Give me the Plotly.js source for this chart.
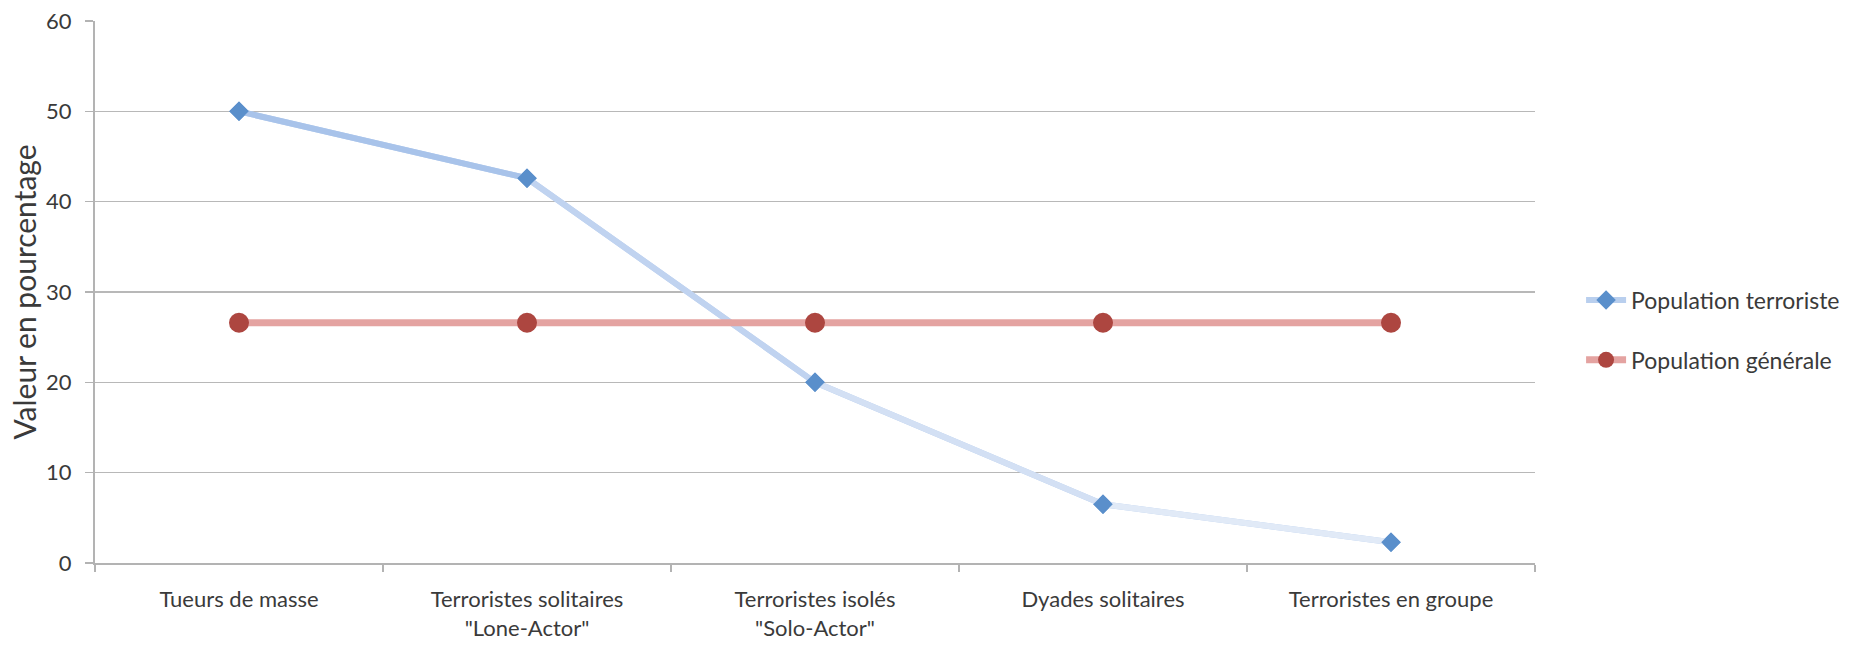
<!DOCTYPE html>
<html>
<head>
<meta charset="utf-8">
<script src="https://cdn.plot.ly/plotly-3.0.1.min.js"></script>
<style>html,body{margin:0;padding:0;background:#fff;}#chart{width:1857px;height:652px;}</style>
</head>
<body>
<div id="chart"></div>
<script>
const categories = [
  'Tueurs de masse',
  'Terroristes solitaires<br>"Lone-Actor"',
  'Terroristes isolés<br>"Solo-Actor"',
  'Dyades solitaires',
  'Terroristes en groupe'
];
const terroristValues = [50, 42.6, 20, 6.5, 2.3];
const generalValues = [26.6, 26.6, 26.6, 26.6, 26.6];
const seriesNames = ['Population terroriste', 'Population générale'];
const yTicks = [0, 10, 20, 30, 40, 50, 60];

const segColors = ['#a8c3ea', '#c0d3f0', '#d3e0f4', '#e1eaf7'];
const FONT = 'Lato, "Open Sans", sans-serif';

const traces = [];
traces.push({
  x: categories, y: terroristValues, name: seriesNames[0],
  type: 'scatter', mode: 'lines+markers',
  line: {color: '#b9cfee', width: 6},
  marker: {symbol: 'diamond', size: 15, color: '#5a8fcb'},
  legendgroup: 'a', hoverinfo: 'skip'
});
for (let i = 0; i < terroristValues.length - 1; i++) {
  traces.push({
    x: categories.slice(i, i + 2), y: terroristValues.slice(i, i + 2),
    type: 'scatter', mode: 'lines', showlegend: false,
    line: {color: segColors[i], width: 6}, hoverinfo: 'skip'
  });
}
traces.push({
  x: categories, y: generalValues, name: seriesNames[1],
  type: 'scatter', mode: 'lines+markers',
  line: {color: '#e4a3a1', width: 7},
  marker: {symbol: 'circle', size: 20, color: '#ad4640'},
  legendgroup: 'b'
});
traces.push({
  x: categories, y: terroristValues, type: 'scatter', mode: 'markers',
  showlegend: false,
  marker: {symbol: 'diamond', size: 15, color: '#5a8fcb'}
});

const layout = {
  width: 1857, height: 652,
  margin: {l: 95, r: 301, t: 21, b: 89},
  paper_bgcolor: '#ffffff', plot_bgcolor: '#ffffff',
  font: {family: FONT, size: 22, color: '#3a3a3a'},
  showlegend: true,
  legend: {
    x: 1.032, xanchor: 'left', y: 0.43, yanchor: 'middle',
    font: {family: FONT, size: 23, color: '#3a3a3a'},
    tracegroupgap: 27, itemwidth: 40
  },
  xaxis: {
    type: 'category', tickson: 'boundaries', range: [-0.5, 4.5],
    showline: true, linecolor: '#b3b3b3', linewidth: 2,
    ticks: 'outside', ticklen: 7, tickcolor: '#b3b3b3', tickwidth: 1.5,
    showgrid: false, zeroline: false,
    tickfont: {family: FONT, size: 22, color: '#3a3a3a'},
    ticklabelstandoff: 16,
    fixedrange: true
  },
  yaxis: {
    range: [0, 60], tickvals: yTicks, ticktext: yTicks.map(String),
    showline: true, linecolor: '#b3b3b3', linewidth: 2,
    ticks: 'outside', ticklen: 8, tickcolor: '#b3b3b3', tickwidth: 1.5,
    showgrid: true, gridcolor: '#b8b8b8', gridwidth: 1.5,
    zeroline: false,
    tickfont: {family: FONT, size: 22, color: '#3a3a3a'},
    ticklabelstandoff: 9,
    title: {text: 'Valeur en pourcentage', font: {family: FONT, size: 30, color: '#3a3a3a'}, standoff: 1},
    fixedrange: true
  }
};

Plotly.newPlot('chart', traces, layout, {displayModeBar: false, staticPlot: true});
</script>
</body>
</html>
